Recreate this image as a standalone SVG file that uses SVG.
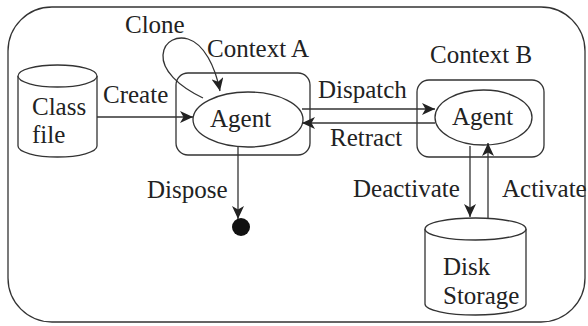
<svg xmlns="http://www.w3.org/2000/svg" width="588" height="326" viewBox="0 0 588 326">
  <style>
    .shape { fill: none; stroke: #333; stroke-width: 1.3; }
    .fillw { fill: #fff; stroke: #333; stroke-width: 1.3; }
    .edge { fill: none; stroke: #333; stroke-width: 1.3; }
    .lbl { font-family: 'Liberation Serif', 'Times New Roman', 'DejaVu Serif', serif; font-size: 25px; fill: #222; }
  </style>
  <defs>
    <marker id="arrow" markerUnits="userSpaceOnUse" markerWidth="14" markerHeight="12" refX="13" refY="6" orient="auto">
      <path d="M0,0 L13,6 L0,12 L3.5,6 z" fill="#222"/>
    </marker>
  </defs>

  <rect x="0" y="0" width="588" height="326" fill="#fff"/>

  <!-- outer system boundary -->
  <rect id="system" class="shape" x="8" y="7" width="577" height="315" rx="44" ry="44"/>

  <g id="class-file">
    <path class="fillw" d="M18,76 L18,146 A39.5,11 0 0 0 97,146 L97,76"/>
    <ellipse class="fillw" cx="57.5" cy="76" rx="39.5" ry="11"/>
    <text class="lbl" x="32" y="115">Class</text>
    <text class="lbl" x="32" y="143">file</text>
  </g>

  <g id="context-a">
    <rect class="shape" x="176" y="73" width="134" height="82" rx="12" ry="12"/>
    <text class="lbl" x="207" y="57">Context A</text>
  </g>

  <g id="agent-a">
    <ellipse class="fillw" cx="248" cy="119.5" rx="55" ry="27.5"/>
    <text class="lbl" x="210" y="127">Agent</text>
  </g>

  <g id="context-b">
    <rect class="shape" x="417" y="80" width="127" height="77" rx="12" ry="12"/>
    <text class="lbl" x="430" y="63">Context B</text>
  </g>

  <g id="agent-b">
    <ellipse class="fillw" cx="483.5" cy="117.5" rx="48.5" ry="27.5"/>
    <text class="lbl" x="452" y="125">Agent</text>
  </g>

  <g id="disposed">
    <circle cx="241" cy="227" r="9" fill="#111"/>
  </g>

  <g id="disk-storage">
    <path class="fillw" d="M425,229 L425,304 A50.5,11 0 0 0 526,304 L526,229"/>
    <ellipse class="fillw" cx="475.5" cy="229" rx="50.5" ry="11"/>
    <text class="lbl" x="443" y="275">Disk</text>
    <text class="lbl" x="443" y="304">Storage</text>
  </g>

  <g id="connectors">
    <!-- Clone: self-loop on agent A -->
    <path class="edge" marker-end="url(#arrow)" d="M203,98 C178,86 162,70 163,55 C164,40 178,36 188,39 C204,44 215,66 220,91"/>
    <text class="lbl" x="125" y="33">Clone</text>

    <!-- Create -->
    <line class="edge" marker-end="url(#arrow)" x1="97" y1="117" x2="193" y2="117"/>
    <text class="lbl" x="103" y="103">Create</text>

    <!-- Dispatch -->
    <line class="edge" marker-end="url(#arrow)" x1="302" y1="109" x2="435" y2="109"/>
    <text class="lbl" x="318" y="98">Dispatch</text>

    <!-- Retract -->
    <line class="edge" marker-end="url(#arrow)" x1="435" y1="123" x2="302" y2="123"/>
    <text class="lbl" x="330" y="146">Retract</text>

    <!-- Dispose -->
    <line class="edge" marker-end="url(#arrow)" x1="238" y1="147" x2="238" y2="219"/>
    <text class="lbl" x="147" y="198">Dispose</text>

    <!-- Deactivate -->
    <line class="edge" marker-end="url(#arrow)" x1="470" y1="146" x2="470" y2="217"/>
    <text class="lbl" x="353" y="197">Deactivate</text>

    <!-- Activate -->
    <line class="edge" marker-end="url(#arrow)" x1="488" y1="218" x2="488" y2="143"/>
    <text class="lbl" x="502" y="197">Activate</text>
  </g>
</svg>
